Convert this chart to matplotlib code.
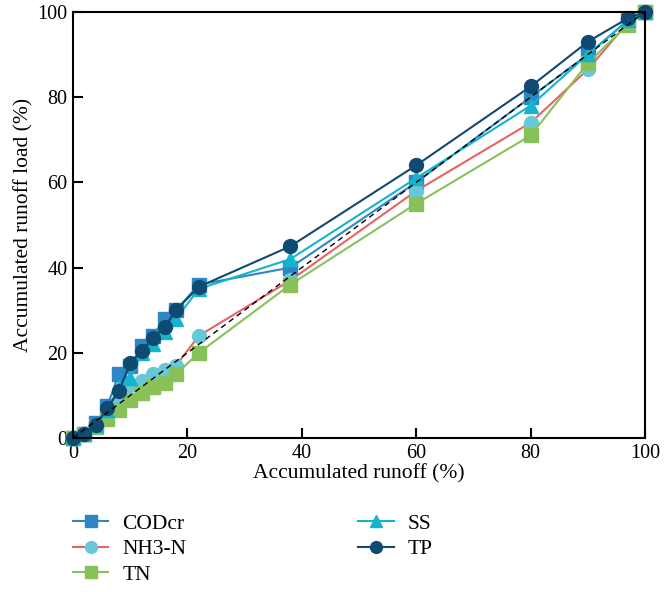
import matplotlib
matplotlib.use("Agg")
import matplotlib.pyplot as plt

plt.rcParams['font.family'] = ['Liberation Serif', 'DejaVu Serif']

runoff = [0, 2, 4, 6, 8, 10, 12, 14, 16, 18, 22, 38, 60, 80, 90, 97, 100]

codcr = [0, 1, 3.5, 7.5, 15, 17, 21.5, 24, 28, 30, 36, 40, 60, 80, 90, 98, 100]
nh3n = [0, 1, 3, 5.5, 9, 12.5, 13.5, 15, 16, 17, 24, 37, 58, 74, 86.5, 97.5, 100]
tn = [0, 1, 2.5, 4.5, 6.5, 9, 10.5, 12, 13, 15, 20, 36, 55, 71, 88, 97, 100]
ss = [0, 1, 3, 6.5, 12, 14, 20, 22, 25, 28, 35, 42, 61, 78, 90, 98, 100]
tp = [0, 1, 3, 7, 11, 17.5, 20.5, 23.5, 26, 30, 35.5, 45, 64, 82.5, 93, 98.5, 100]

series = [
    ("CODcr", codcr, "#2f86c4", "#2f86c4", "s"),
    ("NH3-N", nh3n, "#e86464", "#66c8d8", "o"),
    ("TN", tn, "#88c15a", "#88c15a", "s"),
    ("SS", ss, "#16b4cc", "#16b4cc", "^"),
    ("TP", tp, "#0f4a73", "#0f4a73", "o"),
]

fig = plt.figure(figsize=(6.72, 5.92), dpi=100)
ax = fig.add_axes([0.1086, 0.26, 0.8514, 0.72])

for name, vals, lc, mc, mk in series:
    ax.plot(runoff, vals, color=lc, lw=1.5, marker=mk, markersize=10,
            markerfacecolor=mc, markeredgecolor=mc, label=name, clip_on=False)

# 1:1 reference line
ax.plot([0, 100], [0, 100], color="black", lw=1.0, ls=(0, (4, 3)), zorder=5)

ax.set_xlim(0, 100)
ax.set_ylim(0, 100)
ax.set_xticks([0, 20, 40, 60, 80, 100])
ax.set_yticks([0, 20, 40, 60, 80, 100])
ax.tick_params(direction="in", length=7, width=1.5, labelsize=14.5,
               top=False, right=False, pad=4)
for sp in ax.spines.values():
    sp.set_linewidth(1.5)

ax.set_xlabel("Accumulated runoff (%)", fontsize=15.5, labelpad=1)
ax.set_ylabel("Accumulated runoff load (%)", fontsize=15.5, labelpad=3)

handles, labels = ax.get_legend_handles_labels()
fig.legend(handles, labels,
           loc="upper left", bbox_to_anchor=(0.08, 0.165), ncol=2,
           frameon=False, fontsize=15.5, handlelength=1.63, handletextpad=0.65,
           columnspacing=8.0, labelspacing=0.25, markerscale=0.85)

fig.savefig("out.png", dpi=100)
